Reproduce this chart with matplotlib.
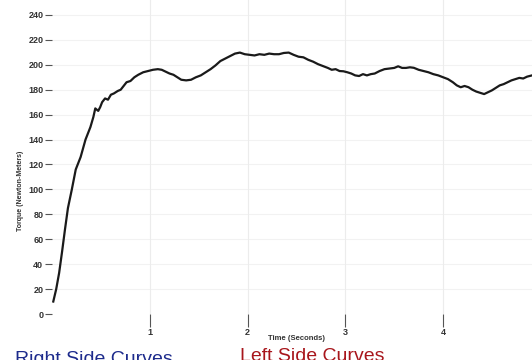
import matplotlib.pyplot as plt

# torque curve
t = [0.01, 0.04, 0.07, 0.10, 0.13, 0.16, 0.20, 0.24, 0.29, 0.34, 0.39, 0.42,
     0.44, 0.47, 0.49, 0.51, 0.54, 0.57, 0.60, 0.63, 0.67, 0.70, 0.73, 0.76,
     0.80, 0.84, 0.88, 0.93, 0.98, 1.03, 1.08, 1.12, 1.16, 1.20, 1.24, 1.28,
     1.32, 1.37, 1.42, 1.47, 1.52, 1.57, 1.62, 1.67, 1.72, 1.77, 1.82, 1.87,
     1.92, 1.97, 2.02, 2.07, 2.12, 2.17, 2.22, 2.27, 2.32, 2.37, 2.42, 2.47,
     2.52, 2.57, 2.62, 2.67, 2.72, 2.77, 2.82, 2.86, 2.90, 2.94, 2.98, 3.02,
     3.06, 3.10, 3.14, 3.18, 3.22, 3.26, 3.30, 3.35, 3.40, 3.45, 3.50, 3.54,
     3.58, 3.62, 3.66, 3.70, 3.75, 3.80, 3.85, 3.90, 3.95, 4.00, 4.05, 4.10,
     4.14, 4.18, 4.22, 4.26, 4.30, 4.34, 4.38, 4.42, 4.46, 4.50, 4.54, 4.58,
     4.62, 4.66, 4.70, 4.74, 4.78, 4.82, 4.86, 4.91]
torque = [10, 20, 33, 50, 68, 85, 100, 116, 126, 140, 150, 158,
          165, 163, 166, 170, 173, 172, 176, 177, 179, 180, 183, 186,
          187, 190, 192, 194, 195, 196, 196.5, 196, 194.5, 193, 192, 190,
          188, 187.5, 188, 190, 191.5, 194, 196.5, 199.5, 203, 205, 207, 209,
          209.8, 208.5, 208, 207.5, 208.5, 208, 209, 208.5, 208.5, 209.5, 209.8, 208,
          206.5, 206, 204, 202.5, 200.5, 199, 197.5, 196, 196.5, 195, 194.8, 194,
          193, 191.5, 191, 192.5, 191.5, 192.5, 193, 195, 196.5, 197, 197.5, 198.8,
          197.5, 197.5, 198, 197.6, 196, 195, 194, 192.5, 191.5, 190, 188.5, 186,
          183.5, 182, 183, 182, 180, 178.5, 177.5, 176.5, 178, 179.5, 181.5, 183.5,
          184.5, 186, 187.5, 188.5, 189.5, 189, 190.5, 191.5]

x_ticks = [1, 2, 3, 4]
y_ticks = list(range(0, 241, 20))

plt.rcParams['font.family'] = ['Liberation Sans', 'DejaVu Sans']

W, H = 532, 360
fig = plt.figure(figsize=(W / 100, H / 100), dpi=100)
ax = fig.add_axes([52.3 / W, 46 / H, (W - 52.3) / W, 314 / H])

ax.set_xlim(0, (W - 52.3) / 97.7)
ax.set_ylim(0, 314 / 1.246)

# faint scan grid
for yv in y_ticks[1:]:
    ax.axhline(yv, color='#f2f2f2', lw=0.8, zorder=0)
for xv in x_ticks:
    ax.axvline(xv, color='#ececec', lw=0.8, zorder=0)

ax.plot(t, torque, color='#1a1a1a', lw=1.6, clip_on=False)

for s in ax.spines.values():
    s.set_visible(False)

ax.set_yticks(y_ticks)
ax.set_yticklabels([str(v) for v in y_ticks], fontsize=6.5, fontweight='bold', color='#333333')
ax.set_xticks(x_ticks)
ax.set_xticklabels([str(v) for v in x_ticks], fontsize=6.5, fontweight='bold', color='#333333')
ax.tick_params(axis='y', direction='out', length=5, width=0.8, color='#555555', pad=1.5)
ax.tick_params(axis='x', direction='out', length=9, width=0.8, color='#555555', pad=1)

fig.text(21 / W, 1 - 191 / H, 'Torque (Newton-Meters)', rotation=90, fontsize=5,
         fontweight='bold', color='#333333', ha='center', va='center')
fig.text(297 / W, 1 - 338 / H, 'Time (Seconds)', fontsize=5.5,
         fontweight='bold', color='#333333', ha='center', va='center')

fig.text(15 / W, 1 - 364 / H, 'Right Side Curves', fontsize=14, color='#1d2b8c',
         ha='left', va='baseline')
fig.text(240 / W, 1 - 361 / H, 'Left Side Curves', fontsize=14, color='#a8161c',
         ha='left', va='baseline')

fig.savefig('out.png', dpi=100)
